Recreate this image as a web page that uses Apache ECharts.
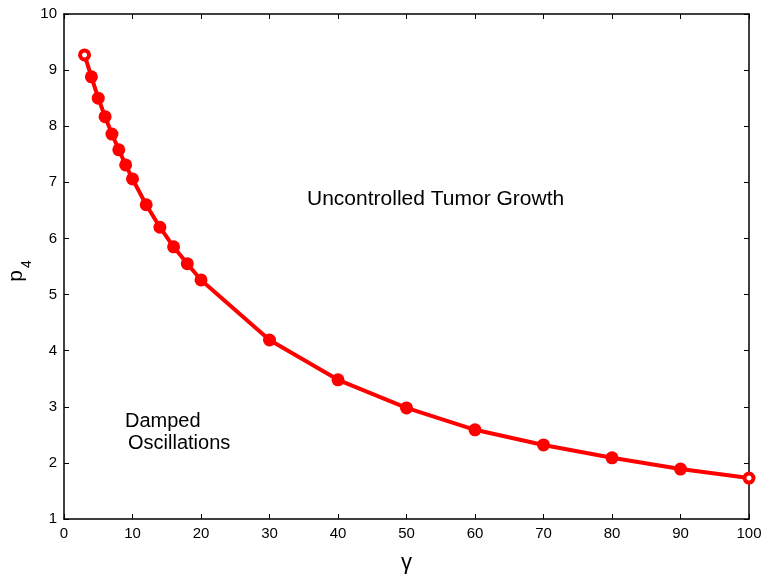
<!DOCTYPE html>
<html>
<head>
<meta charset="utf-8">
<script src="https://cdn.jsdelivr.net/npm/echarts@6/dist/echarts.min.js"></script>
<style>
  html, body { margin: 0; padding: 0; background: #fff; overflow: hidden; }
  #chart { width: 763px; height: 574px; }
</style>
</head>
<body>
<div id="chart"></div>
<script>
// Data
const gammaValues = [3, 4, 5, 6, 7, 8, 9, 10, 12, 14, 16, 18, 20, 30, 40, 50, 60, 70, 80, 90, 100];
const p4Values    = [9.27, 8.88, 8.50, 8.17, 7.86, 7.58, 7.31, 7.06, 6.60, 6.20, 5.85, 5.55, 5.26, 4.19, 3.48, 2.98, 2.59, 2.32, 2.09, 1.89, 1.73];
const xTicks = [0, 10, 20, 30, 40, 50, 60, 70, 80, 90, 100];
const yTicks = [1, 2, 3, 4, 5, 6, 7, 8, 9, 10];

const FONT = 'Liberation Sans, Arial, sans-serif';
const RED = '#ff0000';

const lastIdx = gammaValues.length - 1;
const seriesData = gammaValues.map((g, i) => {
  const item = { value: [g, p4Values[i]] };
  if (i === 0 || i === lastIdx) {
    item.symbol = 'circle';
    item.symbolSize = 9;
    item.itemStyle = { color: '#ffffff', borderColor: RED, borderWidth: 4 };
  }
  return item;
});

const chart = echarts.init(document.getElementById('chart'), null, { renderer: 'canvas' });

const axisCommon = {
  axisLine: { show: true, onZero: false, lineStyle: { color: '#000', width: 1.5 } },
  axisTick: { show: true, inside: true, length: 5, lineStyle: { color: '#000', width: 1 } },
  splitLine: { show: false }
};

chart.setOption({
  animation: false,
  backgroundColor: '#ffffff',
  grid: { left: 64, right: 14, top: 14, bottom: 55, containLabel: false, outerBoundsMode: 'none' },
  xAxis: [
    Object.assign({
      type: 'value', min: xTicks[0], max: xTicks[xTicks.length - 1], interval: 10,
      position: 'bottom',
      axisLabel: { color: '#000', fontSize: 15, fontFamily: FONT, margin: 7 },
      name: 'γ', nameLocation: 'middle', nameGap: 33,
      nameTextStyle: { color: '#000', fontSize: 22, fontFamily: FONT }
    }, axisCommon),
    Object.assign({
      type: 'value', min: xTicks[0], max: xTicks[xTicks.length - 1], interval: 10,
      position: 'top', axisLabel: { show: false }
    }, axisCommon)
  ],
  yAxis: [
    Object.assign({
      type: 'value', min: yTicks[0], max: yTicks[yTicks.length - 1], interval: 1,
      position: 'left',
      axisLabel: { color: '#000', fontSize: 15, fontFamily: FONT, margin: 7 }
    }, axisCommon),
    Object.assign({
      type: 'value', min: yTicks[0], max: yTicks[yTicks.length - 1], interval: 1,
      position: 'right', axisLabel: { show: false }
    }, axisCommon)
  ],
  series: [{
    type: 'line',
    xAxisIndex: 0, yAxisIndex: 0,
    data: seriesData,
    symbol: 'circle',
    symbolSize: 13,
    showAllSymbol: true,
    lineStyle: { color: RED, width: 4 },
    itemStyle: { color: RED },
    z: 3
  }],
  graphic: [
    {
      type: 'group', x: 16, y: 276, rotation: Math.PI / 2,
      children: [
        { type: 'text', x: 0, y: 0, style: { text: 'p', fontSize: 21, fontFamily: FONT, fill: '#000', align: 'center', verticalAlign: 'middle' } },
        { type: 'text', x: 12, y: 11, style: { text: '4', fontSize: 14, fontFamily: FONT, fill: '#000', align: 'center', verticalAlign: 'middle' } }
      ]
    },
    { type: 'text', x: 307, y: 199, style: { text: 'Uncontrolled Tumor Growth', fontSize: 21, fontFamily: FONT, fill: '#000', verticalAlign: 'middle' } },
    { type: 'text', x: 125, y: 421, style: { text: 'Damped', fontSize: 20, fontFamily: FONT, fill: '#000', verticalAlign: 'middle' } },
    { type: 'text', x: 128, y: 443, style: { text: 'Oscillations', fontSize: 20, fontFamily: FONT, fill: '#000', verticalAlign: 'middle' } }
  ]
});
</script>
</body>
</html>
